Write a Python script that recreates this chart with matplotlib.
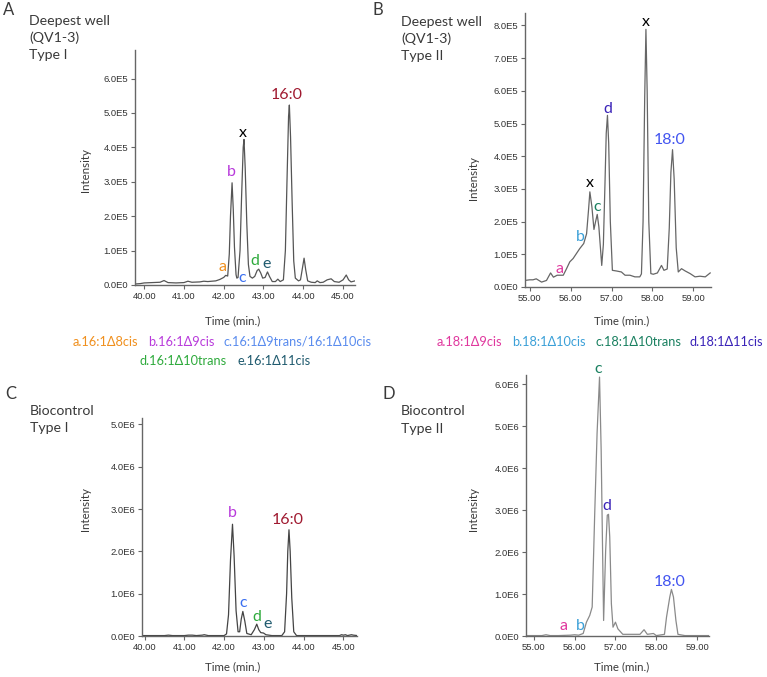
import matplotlib
matplotlib.use('Agg')
import matplotlib.pyplot as plt
import numpy as np

plt.rcParams['font.family'] = ['Lato', 'DejaVu Sans']

W, H = 767, 677

# ---- data (time in min, intensity) ----
# A: deepest well, type I (x 1e5)
timeA = [39.78, 39.9, 40.0, 40.2, 40.4, 40.5, 40.6, 40.8, 41.0, 41.1, 41.2, 41.4, 41.5, 41.6,
         41.8, 41.9, 42.0, 42.05, 42.1, 42.14, 42.17, 42.21, 42.24, 42.27, 42.31, 42.33, 42.36,
         42.41, 42.45, 42.49, 42.51, 42.54, 42.58, 42.62, 42.66, 42.72, 42.78, 42.84, 42.88,
         42.93, 42.98, 43.04, 43.1, 43.15, 43.22, 43.3, 43.36, 43.42, 43.5, 43.55, 43.59, 43.63,
         43.65, 43.68, 43.72, 43.76, 43.8, 43.88, 43.93, 43.98, 44.02, 44.06, 44.11, 44.2, 44.3,
         44.35, 44.42, 44.5, 44.6, 44.7, 44.78, 44.9, 45.0, 45.08, 45.14, 45.2, 45.3]
intA = [0.03, 0.04, 0.06, 0.07, 0.08, 0.13, 0.07, 0.06, 0.07, 0.11, 0.08, 0.09, 0.11, 0.1,
        0.12, 0.16, 0.22, 0.28, 0.26, 0.9, 2.0, 2.97, 2.2, 1.1, 0.3, 0.2, 0.22,
        1.0, 2.6, 4.0, 4.23, 3.4, 1.8, 0.6, 0.25, 0.2, 0.25, 0.42, 0.46,
        0.35, 0.2, 0.22, 0.38, 0.25, 0.1, 0.1, 0.17, 0.1, 0.15, 1.0, 3.0, 4.9,
        5.23, 4.3, 2.4, 0.7, 0.2, 0.12, 0.15, 0.5, 0.78, 0.45, 0.12, 0.08, 0.07,
        0.12, 0.07, 0.08, 0.15, 0.18, 0.1, 0.08, 0.15, 0.29, 0.15, 0.09, 0.12]

# B: deepest well, type II (x 1e5)
timeB = [54.88, 55.0, 55.08, 55.16, 55.29, 55.41, 55.51, 55.58, 55.67, 55.82, 55.9, 55.98,
         56.06, 56.14, 56.22, 56.32, 56.39, 56.44, 56.47, 56.52, 56.57, 56.61, 56.65, 56.69,
         56.76, 56.8, 56.84, 56.87, 56.9, 56.93, 56.97, 57.02, 57.12, 57.24, 57.33, 57.45,
         57.57, 57.69, 57.73, 57.77, 57.81, 57.84, 57.87, 57.91, 57.96, 58.02, 58.12, 58.22,
         58.28, 58.36, 58.41, 58.45, 58.49, 58.53, 58.58, 58.63, 58.71, 58.8, 58.92, 59.04,
         59.16, 59.29, 59.41]
intB = [0.2, 0.22, 0.22, 0.25, 0.15, 0.2, 0.43, 0.3, 0.36, 0.36, 0.56, 0.77,
        0.87, 1.02, 1.17, 1.33, 1.63, 2.4, 2.91, 2.45, 1.76, 2.0, 2.22, 1.84,
        0.66, 1.3, 3.2, 4.7, 5.25, 4.4, 2.0, 0.51, 0.49, 0.46, 0.36, 0.36,
        0.31, 0.31, 0.4, 2.0, 5.8, 7.88, 6.0, 2.0, 0.41, 0.39, 0.43, 0.66,
        0.51, 0.55, 1.8, 3.5, 4.2, 3.3, 1.2, 0.46, 0.56, 0.49, 0.41, 0.31,
        0.33, 0.31, 0.43]

# C: biocontrol, type I (x 1e6)
timeC = [39.93, 40.2, 40.5, 40.6, 40.7, 41.0, 41.1, 41.2, 41.3, 41.45, 41.5, 41.6, 42.0,
         42.06, 42.11, 42.16, 42.21, 42.25, 42.3, 42.35, 42.39, 42.43, 42.47, 42.52, 42.57,
         42.68, 42.76, 42.82, 42.87, 42.92, 42.99, 43.05, 43.2, 43.45, 43.52, 43.57, 43.6,
         43.63, 43.66, 43.7, 43.75, 43.82, 44.5, 44.9, 44.95, 45.0, 45.05, 45.1, 45.2, 45.25,
         45.35]
intC = [0.01, 0.01, 0.01, 0.02, 0.01, 0.01, 0.02, 0.02, 0.01, 0.02, 0.03, 0.01, 0.01,
        0.05, 0.5, 1.8, 2.64, 1.9, 0.6, 0.1, 0.1, 0.4, 0.58, 0.35, 0.06,
        0.03, 0.15, 0.28, 0.15, 0.08, 0.07, 0.03, 0.01, 0.01, 0.1, 1.0, 2.0,
        2.51, 2.0, 0.9, 0.1, 0.01, 0.01, 0.01, 0.03, 0.02, 0.03, 0.01, 0.03, 0.02,
        0.01]

# D: biocontrol, type II (x 1e6)
timeD = [54.84, 55.2, 55.3, 55.4, 55.6, 55.9, 56.0, 56.1, 56.21, 56.29, 56.37, 56.43,
         56.49, 56.55, 56.61, 56.65, 56.68, 56.71, 56.76, 56.8, 56.83, 56.86, 56.9, 56.94,
         57.0, 57.06, 57.18, 57.6, 57.7, 57.78, 57.93, 58.0, 58.2, 58.25, 58.33, 58.37,
         58.42, 58.48, 58.53, 58.7, 59.29]
intD = [0.01, 0.01, 0.03, 0.01, 0.01, 0.02, 0.03, 0.02, 0.06, 0.33, 0.49, 0.69,
        2.84, 4.83, 6.17, 4.43, 2.36, 0.37, 2.04, 2.88, 2.9, 2.36, 0.77, 0.21,
        0.33, 0.17, 0.04, 0.04, 0.15, 0.04, 0.06, 0.01, 0.04, 0.45, 0.93, 1.11,
        0.93, 0.37, 0.04, 0.01, 0.01]

orange = '#F0901E'
magenta = '#B83ADB'
blue = '#3A6FF0'
lblue = '#5A8CEE'
green = '#2EAA3C'
teal = '#1F5A6E'
dred = '#A01A30'
pink = '#E0389E'
sky = '#3BA0D8'
dgreen = '#1A8060'
indigo = '#3A23B8'
b18 = '#4355F0'

# peak labels: (text, time, intensity, colour)
labelsA = [('a', 41.97, 0.53, orange), ('b', 42.2, 3.29, magenta), ('c', 42.47, 0.19, blue),
           ('x', 42.49, 4.41, 'black'), ('d', 42.79, 0.71, green), ('e', 43.08, 0.61, teal),
           ('16:0', 43.58, 5.52, dred)]
labelsB = [('a', 55.72, 0.56, pink), ('b', 56.23, 1.53, sky), ('x', 56.47, 3.18, 'black'),
           ('c', 56.64, 2.45, dgreen), ('d', 56.9, 5.45, indigo), ('x', 57.84, 8.1, 'black'),
           ('18:0', 58.43, 4.49, b18)]
labelsC = [('b', 42.21, 2.91, magenta), ('c', 42.49, 0.79, blue), ('d', 42.81, 0.45, green),
           ('e', 43.08, 0.29, teal), ('16:0', 43.59, 2.74, dred)]
labelsD = [('a', 55.72, 0.23, pink), ('b', 56.14, 0.25, sky), ('c', 56.57, 6.36, dgreen),
           ('d', 56.8, 3.1, indigo), ('18:0', 58.33, 1.29, b18)]

# panel pixel boxes: left, right, top, bottom
panels = [
    dict(box=(135, 355, 50, 285), x=timeA, y=intA, sc=1e5, xlim=(39.77, 45.3), ymax=6.83,
         yt=range(0, 7), exp='E5', xt=range(40, 46), lab=labelsA, lc='#555555'),
    dict(box=(525, 711, 13, 287), x=timeB, y=intB, sc=1e5, xlim=(54.885, 59.43), ymax=8.38,
         yt=range(0, 9), exp='E5', xt=range(55, 60), lab=labelsB, lc='#666666'),
    dict(box=(142, 357, 418, 636), x=timeC, y=intC, sc=1e6, xlim=(39.935, 45.34), ymax=5.15,
         yt=range(0, 6), exp='E6', xt=range(40, 46), lab=labelsC, lc='#444444'),
    dict(box=(526, 709, 375, 636), x=timeD, y=intD, sc=1e6, xlim=(54.81, 59.29), ymax=6.22,
         yt=range(0, 7), exp='E6', xt=range(55, 60), lab=labelsD, lc='#8a8a8a'),
]

fig = plt.figure(figsize=(W / 100, H / 100), dpi=100)

for p in panels:
    l, r, t, b = p['box']
    ax = fig.add_axes([l / W, 1 - b / H, (r - l) / W, (b - t) / H])
    sc = p['sc']
    ax.plot(p['x'], np.array(p['y']) * sc, color=p['lc'], lw=0.9)
    ax.set_xlim(*p['xlim'])
    ax.set_ylim(0, p['ymax'] * sc)
    ax.set_yticks([v * sc for v in p['yt']])
    ax.set_yticklabels(['0.0E0'] + ['%d.0%s' % (v, p['exp']) for v in p['yt'][1:]])
    ax.set_xticks(list(p['xt']))
    ax.set_xticklabels(['%d.00' % v for v in p['xt']])
    for s in ['top', 'right']:
        ax.spines[s].set_visible(False)
    for s in ['left', 'bottom']:
        ax.spines[s].set_color('#666666')
        ax.spines[s].set_linewidth(1.0)
    ax.tick_params(direction='out', length=3, width=0.8, color='#666666', pad=2,
                   labelsize=6.8, labelcolor='#333333')
    for lab in ax.get_xticklabels() + ax.get_yticklabels():
        lab.set_family(['Liberation Sans', 'DejaVu Sans'])
    for txt, tt, ii, c in p['lab']:
        ax.text(tt, ii * sc, txt, ha='center', va='center', color=c, fontsize=11.5,
                clip_on=False)


def ftext(px, py, s, **kw):
    fig.text(px / W, 1 - py / H, s, **kw)


title_kw = dict(fontsize=10.2, color='#3a3a3a', va='center', ha='left')
letter_kw = dict(fontsize=12, color='#3a3a3a', va='center')
ftext(3, 10, 'A', **letter_kw)
ftext(29, 21, 'Deepest well', **title_kw)
ftext(29, 38, '(QV1-3)', **title_kw)
ftext(29, 55, 'Type I', **title_kw)
ftext(373, 10, 'B', **letter_kw)
ftext(401, 22, 'Deepest well', **title_kw)
ftext(401, 39, '(QV1-3)', **title_kw)
ftext(401, 56, 'Type II', **title_kw)
ftext(5, 394, 'C', **letter_kw)
ftext(30, 411, 'Biocontrol', **title_kw)
ftext(30, 428, 'Type I', **title_kw)
ftext(383, 394, 'D', **letter_kw)
ftext(401, 411, 'Biocontrol', **title_kw)
ftext(401, 429, 'Type II', **title_kw)

axis_kw = dict(fontsize=8.3, color='#3a3a3a', ha='center', va='center')
ftext(233, 321, 'Time (min.)', **axis_kw)
ftext(622, 321, 'Time (min.)', **axis_kw)
ftext(233, 667, 'Time (min.)', **axis_kw)
ftext(622, 667, 'Time (min.)', **axis_kw)
ftext(86, 170, 'Intensity', rotation=90, **axis_kw)
ftext(473, 178, 'Intensity', rotation=90, **axis_kw)
ftext(86, 509, 'Intensity', rotation=90, **axis_kw)
ftext(473, 509, 'Intensity', rotation=90, **axis_kw)

# legend rows: (text, left px, centre py, colour)
legend = [('a.16:1Δ8cis', 73, 342, orange), ('b.16:1Δ9cis', 148, 342, magenta),
          ('c.16:1Δ9trans/16:1Δ10cis', 224, 342, lblue),
          ('d.16:1Δ10trans', 140, 361, green), ('e.16:1Δ11cis', 237, 361, teal),
          ('a.18:1Δ9cis', 437, 342, pink), ('b.18:1Δ10cis', 512, 342, sky),
          ('c.18:1Δ10trans', 595, 342, dgreen), ('d.18:1Δ11cis', 689, 342, indigo)]
for s, px, py, c in legend:
    ftext(px, py, s, fontsize=9.2, color=c, ha='left', va='center')

fig.savefig('out.png', dpi=100)
